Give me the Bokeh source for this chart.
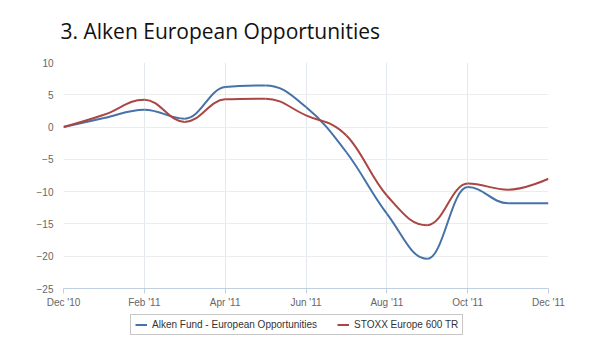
from bokeh.plotting import figure
from bokeh.layouts import column
from bokeh.models import FixedTicker, Legend, LegendItem, ColumnDataSource
from bokeh.embed import file_html
from bokeh.resources import INLINE

months = ["Dec '10", "Jan '11", "Feb '11", "Mar '11", "Apr '11", "May '11", "Jun '11",
          "Jul '11", "Aug '11", "Sep '11", "Oct '11", "Nov '11", "Dec '11"]
alken = [0, 1.4, 2.7, 1.3, 6.2, 6.45, 3.1, -3.9, -13.4, -20.4, -9.3, -11.8, -11.8]
stoxx = [0, 1.9, 4.25, 0.8, 4.3, 4.4, 1.8, -1.3, -10.6, -15.2, -8.75, -9.7, -8.0]
tick_months = [0, 2, 4, 6, 8, 10, 12]
y_ticks = [-25, -20, -15, -10, -5, 0, 5, 10]
series_names = ["Alken Fund - European Opportunities", "STOXX Europe 600 TR"]
colors = ["#4572A7", "#AA4643"]


def spline_segments(ys):
    """Highcharts-style spline: cubic Bezier segments through the data points."""
    xs = list(range(len(ys)))
    s = 1.5
    d = s + 1
    n = len(ys)
    left = [None] * n
    right = [None] * n
    for i in range(1, n - 1):
        px, py = xs[i], ys[i]
        lx, ly = xs[i - 1], ys[i - 1]
        nx, ny = xs[i + 1], ys[i + 1]
        lcx = (s * px + lx) / d
        lcy = (s * py + ly) / d
        rcx = (s * px + nx) / d
        rcy = (s * py + ny) / d
        corr = ((rcy - lcy) * (rcx - px)) / (rcx - lcx) + py - rcy
        lcy += corr
        rcy += corr
        if lcy > ly and lcy > py:
            lcy = max(ly, py)
            rcy = 2 * py - lcy
        elif lcy < ly and lcy < py:
            lcy = min(ly, py)
            rcy = 2 * py - lcy
        if rcy > ny and rcy > py:
            rcy = max(ny, py)
            lcy = 2 * py - rcy
        elif rcy < ny and rcy < py:
            rcy = min(ny, py)
            lcy = 2 * py - rcy
        left[i] = (lcx, lcy)
        right[i] = (rcx, rcy)
    data = dict(x0=[], y0=[], x1=[], y1=[], cx0=[], cy0=[], cx1=[], cy1=[])
    for i in range(1, n):
        c0 = right[i - 1] if right[i - 1] is not None else (xs[i - 1], ys[i - 1])
        c1 = left[i] if left[i] is not None else (xs[i], ys[i])
        data["x0"].append(xs[i - 1]); data["y0"].append(ys[i - 1])
        data["x1"].append(xs[i]); data["y1"].append(ys[i])
        data["cx0"].append(c0[0]); data["cy0"].append(c0[1])
        data["cx1"].append(c1[0]); data["cy1"].append(c1[1])
    return ColumnDataSource(data)


sources = [spline_segments(ys) for ys in (alken, stoxx)]

p = figure(width=600, height=310, output_backend="svg", toolbar_location=None,
           x_range=(0, 12), y_range=(-25, 10),
           min_border_left=63, min_border_right=52, min_border_top=62, min_border_bottom=22)
p.outline_line_color = None
p.background_fill_color = "white"
p.border_fill_color = "white"

p.title.text = "3. Alken European Opportunities"
p.title.text_font = "Open Sans"
p.title.text_font_size = "21px"
p.title.text_font_style = "normal"
p.title.text_color = "#111111"
p.title.align = "left"
p.title.vertical_align = "top"
p.title.offset = -3
p.title.standoff = 32

for src, c in zip(sources, colors):
    p.bezier(x0="x0", y0="y0", x1="x1", y1="y1", cx0="cx0", cy0="cy0",
             cx1="cx1", cy1="cy1", source=src, line_color=c, line_width=2)

p.xaxis.ticker = FixedTicker(ticks=tick_months)
p.xaxis.major_label_overrides = {t: months[t] for t in tick_months}
p.xaxis.axis_line_color = "#C0D0E0"
p.xaxis.major_tick_line_color = "#C0D0E0"
p.xaxis.major_tick_out = 5
p.xaxis.major_tick_in = 0
p.xaxis.minor_tick_line_color = None
p.xaxis.major_label_standoff = 3
p.xaxis.major_label_text_font = "Liberation Sans"
p.xaxis.major_label_text_font_size = "10px"
p.xaxis.major_label_text_color = "#666666"

p.yaxis.ticker = FixedTicker(ticks=y_ticks)
p.yaxis.axis_line_color = None
p.yaxis.major_tick_line_color = None
p.yaxis.minor_tick_line_color = None
p.yaxis.major_tick_out = 0
p.yaxis.major_label_standoff = 10
p.yaxis.major_label_text_font = "Liberation Sans"
p.yaxis.major_label_text_font_size = "10px"
p.yaxis.major_label_text_color = "#666666"

p.xgrid.ticker = FixedTicker(ticks=tick_months)
p.xgrid.grid_line_color = "#E4E8EF"
p.ygrid.ticker = FixedTicker(ticks=y_ticks)
p.ygrid.grid_line_color = "#ECECEC"

# Legend strip below the chart (series drawn off-screen there, only the legend shows)
p2 = figure(width=600, height=43, output_backend="svg", toolbar_location=None,
            x_range=(0, 12), y_range=(100, 101), min_border=0,
            min_border_left=0, min_border_right=0, min_border_top=0, min_border_bottom=0,
            x_axis_location=None, y_axis_location=None)
p2.grid.visible = False
p2.outline_line_color = None
p2.border_fill_color = "white"
p2.background_fill_color = "white"
leg_renderers = [p2.bezier(x0="x0", y0="y0", x1="x1", y1="y1", cx0="cx0", cy0="cy0",
                           cx1="cx1", cy1="cy1", source=src, line_color=c, line_width=2)
                 for src, c in zip(sources, colors)]

legend = Legend(items=[LegendItem(label=n, renderers=[r]) for n, r in zip(series_names, leg_renderers)],
                orientation="horizontal", location=(67, 18))
legend.border_line_color = "#909090"
legend.border_line_width = 1
legend.padding = 4
legend.margin = 0
legend.spacing = 20
legend.glyph_width = 12
legend.glyph_height = 11
legend.label_height = 11
legend.label_standoff = 5
legend.label_text_font = "Liberation Sans"
legend.label_text_font_size = "10px"
legend.label_text_color = "#333333"
p2.add_layout(legend, "center")

open("out.html", "w").write(file_html(column(p, p2, spacing=0), INLINE))
